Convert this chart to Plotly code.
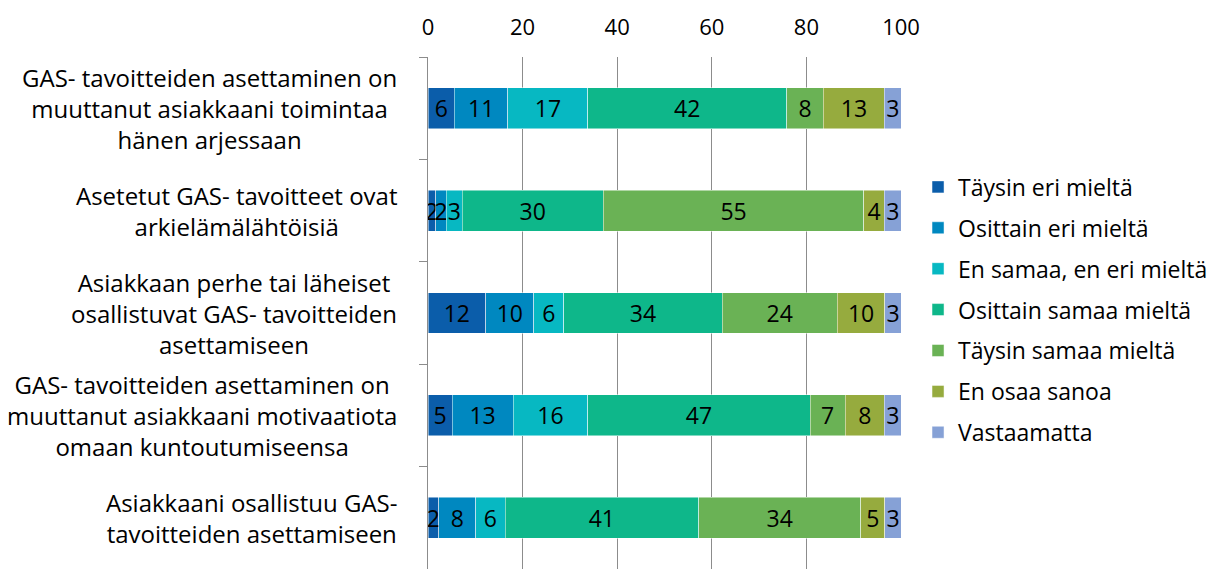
import plotly.graph_objects as go

statements = [
    "GAS- tavoitteiden asettaminen on<br>muuttanut asiakkaani toimintaa<br>hänen arjessaan",
    "Asetetut GAS- tavoitteet ovat<br>arkielämälähtöisiä",
    "Asiakkaan perhe tai läheiset<br>osallistuvat GAS- tavoitteiden<br>asettamiseen",
    "GAS- tavoitteiden asettaminen on<br>muuttanut asiakkaani motivaatiota<br>omaan kuntoutumiseensa",
    "Asiakkaani osallistuu GAS-<br>tavoitteiden asettamiseen",
]

answers = ["Täysin eri mieltä", "Osittain eri mieltä", "En samaa, en eri mieltä",
           "Osittain samaa mieltä", "Täysin samaa mieltä", "En osaa sanoa", "Vastaamatta"]

# percent per statement and the labels printed on the bars
taysin_eri = [5.6, 1.6, 12.2, 5.1, 2.3]
osittain_eri = [11.3, 2.3, 10.2, 12.9, 7.8]
en_samaa_en_eri = [16.9, 3.3, 6.3, 15.8, 6.2]
osittain_samaa = [42.0, 29.9, 33.5, 47.0, 40.9]
taysin_samaa = [7.8, 55.0, 24.3, 7.4, 34.3]
en_osaa = [12.9, 4.4, 10.1, 8.3, 5.1]
vastaamatta = [3.5, 3.5, 3.5, 3.5, 3.5]

taysin_eri_lbl = [6, 2, 12, 5, 2]
osittain_eri_lbl = [11, 2, 10, 13, 8]
en_samaa_en_eri_lbl = [17, 3, 6, 16, 6]
osittain_samaa_lbl = [42, 30, 34, 47, 41]
taysin_samaa_lbl = [8, 55, 24, 7, 34]
en_osaa_lbl = [13, 4, 10, 8, 5]
vastaamatta_lbl = [3, 3, 3, 3, 3]

series = [taysin_eri, osittain_eri, en_samaa_en_eri, osittain_samaa, taysin_samaa, en_osaa, vastaamatta]
labels = [taysin_eri_lbl, osittain_eri_lbl, en_samaa_en_eri_lbl, osittain_samaa_lbl,
          taysin_samaa_lbl, en_osaa_lbl, vastaamatta_lbl]
colors = ["#0B5DAA", "#0088C0", "#07B8C2", "#0EB78A", "#6AB255", "#96AB3E", "#86A1D6"]

FONT = "Open Sans"

fig = go.Figure()
for name, vals, lbl, col in zip(answers, series, labels, colors):
    fig.add_trace(go.Bar(
        y=statements,
        x=vals,
        orientation="h",
        name=name,
        legendgroup=name,
        marker=dict(color=col, line=dict(color="rgba(255,255,255,0.6)", width=0.8)),
        text=[str(v) for v in lbl],
        textposition="inside",
        insidetextanchor="middle",
        textangle=0,
        constraintext="none",
        textfont=dict(color="black", size=23, family=FONT),
    ))

# category labels as centred annotations
for s in statements:
    fig.add_annotation(
        x=-0.062, xref="paper", y=s, yref="y",
        text=s, showarrow=False, xanchor="right", yanchor="middle", align="center",
        font=dict(size=24, family=FONT, color="black"),
    )

# the page body adds an 8px offset, so margins are shifted to compensate
fig.update_layout(
    barmode="stack",
    bargap=0.6,
    width=1225, height=571,
    margin=dict(l=420, r=332, t=49, b=10, autoexpand=False),
    plot_bgcolor="white", paper_bgcolor="white",
    uniformtext=dict(minsize=23, mode="show"),
    font=dict(family=FONT, color="black"),
    legend=dict(
        x=1.036, xanchor="left", y=0.506, yanchor="middle",
        font=dict(size=23, family=FONT, color="black"),
        tracegroupgap=8, traceorder="grouped",
    ),
    xaxis=dict(
        side="top", range=[0, 100], dtick=20,
        showgrid=True, gridcolor="#8C8C8C", gridwidth=1,
        showline=False, zeroline=False, ticks="",
        tickfont=dict(size=22, family=FONT, color="black"),
        ticklabelstandoff=17, automargin=False,
    ),
    yaxis=dict(
        autorange="reversed", showticklabels=False, automargin=False,
        showline=True, linecolor="#8C8C8C", linewidth=1,
        ticks="outside", tickson="boundaries", ticklen=8, tickcolor="#8C8C8C",
        showgrid=False,
    ),
)

fig.write_html("out.html")
